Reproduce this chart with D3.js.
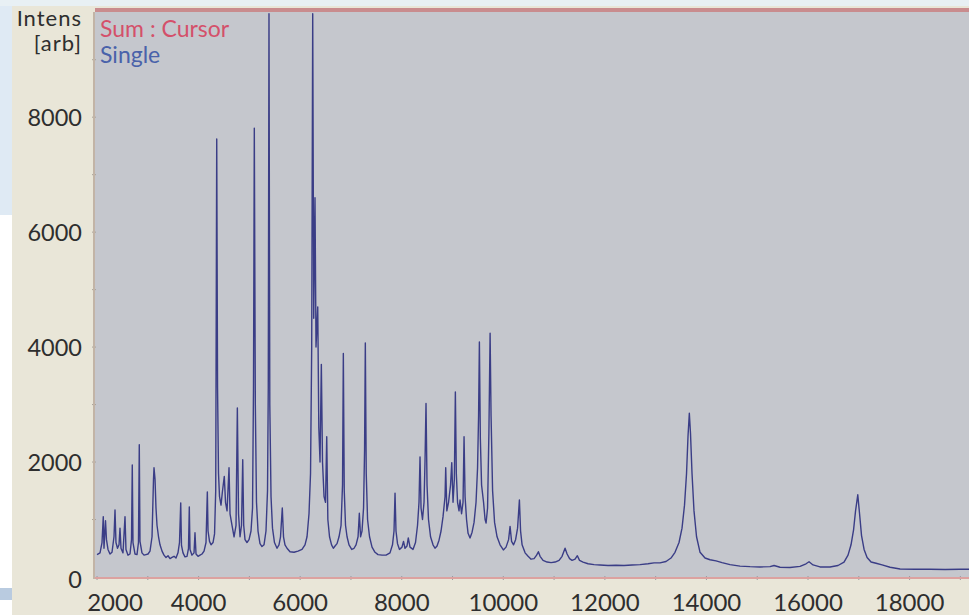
<!DOCTYPE html>
<html>
<head>
<meta charset="utf-8">
<title>Spectrum</title>
<style>
  body { margin: 0; background: #ffffff; }
  text { font-family: Lato, "Open Sans", sans-serif; }
</style>
</head>
<body>
<svg width="969" height="615"></svg>
<script src="https://d3js.org/d3.v7.min.js"></script>
<script>

// m/z positions
var mz = [
  2000, 2059, 2098, 2123, 2137, 2167, 2186, 2216, 2255, 2295, 2334, 2354, 2373, 2403, 2433, 2452, 2472, 2511, 2551, 2570,
  2610, 2649, 2679, 2694, 2708, 2748, 2787, 2816, 2832, 2846, 2885, 2925, 2964, 3004, 3043, 3083, 3112, 3122, 3142, 3161,
  3181, 3211, 3240, 3280, 3319, 3358, 3398, 3437, 3476, 3516, 3555, 3594, 3624, 3648, 3663, 3693, 3732, 3772, 3801, 3817,
  3831, 3870, 3910, 3929, 3949, 3989, 4028, 4067, 4107, 4146, 4172, 4186, 4215, 4245, 4284, 4314, 4337, 4357, 4373, 4392,
  4412, 4441, 4471, 4506, 4530, 4560, 4599, 4619, 4658, 4698, 4737, 4763, 4786, 4816, 4845, 4869, 4888, 4914, 4953, 4993,
  5032, 5062, 5081, 5097, 5117, 5140, 5170, 5209, 5248, 5288, 5327, 5357, 5372, 5386, 5402, 5426, 5455, 5494, 5544, 5583,
  5613, 5648, 5672, 5701, 5741, 5800, 5879, 5958, 6036, 6095, 6135, 6174, 6204, 6227, 6247, 6267, 6292, 6312, 6346, 6367,
  6391, 6417, 6440, 6470, 6499, 6523, 6545, 6578, 6618, 6653, 6687, 6726, 6765, 6805, 6834, 6850, 6868, 6893, 6923, 6962,
  7015, 7061, 7100, 7140, 7165, 7189, 7218, 7248, 7268, 7283, 7301, 7327, 7366, 7415, 7474, 7533, 7612, 7691, 7769, 7818,
  7848, 7868, 7887, 7917, 7956, 8005, 8035, 8064, 8104, 8129, 8163, 8222, 8271, 8311, 8340, 8360, 8380, 8409, 8439, 8458,
  8478, 8498, 8527, 8567, 8616, 8655, 8695, 8734, 8774, 8813, 8853, 8866, 8888, 8922, 8961, 8985, 9010, 9036, 9056, 9075,
  9099, 9128, 9148, 9178, 9207, 9227, 9247, 9276, 9306, 9345, 9385, 9424, 9463, 9493, 9513, 9529, 9548, 9572, 9611, 9641,
  9661, 9690, 9716, 9740, 9759, 9789, 9828, 9877, 9936, 10001, 10054, 10104, 10133, 10163, 10202, 10242, 10281, 10317, 10340, 10370,
  10429, 10488, 10547, 10606, 10656, 10691, 10724, 10783, 10862, 10941, 11020, 11098, 11157, 11216, 11256, 11305, 11354, 11413, 11458, 11501,
  11570, 11669, 11787, 11905, 12062, 12220, 12377, 12535, 12692, 12850, 12968, 13086, 13204, 13302, 13381, 13460, 13519, 13568, 13608, 13637,
  13663, 13686, 13716, 13755, 13805, 13874, 13972, 14071, 14189, 14307, 14464, 14661, 14858, 15055, 15252, 15331, 15449, 15646, 15843, 15961,
  16020, 16099, 16236, 16433, 16591, 16709, 16788, 16847, 16897, 16936, 16980, 17015, 17054, 17104, 17163, 17242, 17340, 17458, 17616, 17813,
  18108, 18403, 18698, 18993, 19170
];

// intensities (arb) at those positions
var intens = [
  390, 420, 600, 1050, 500, 980, 650, 480, 400, 430, 700, 1165, 600, 500, 560, 850, 500, 420, 1050, 480,
  380, 400, 650, 1950, 600, 400, 390, 600, 2300, 620, 420, 380, 390, 400, 450, 700, 1700, 1900, 1700, 1200,
  900, 700, 560, 450, 380, 340, 370, 320, 340, 360, 330, 420, 600, 1290, 550, 420, 350, 360, 500, 1220,
  480, 380, 420, 770, 400, 360, 380, 400, 450, 600, 1480, 800, 620, 560, 600, 750, 1500, 7620, 3300, 1800,
  1400, 1250, 1500, 1750, 1300, 1150, 1900, 1100, 900, 700, 900, 2940, 1100, 700, 900, 2040, 900, 650, 600, 650,
  800, 1200, 3300, 7810, 3000, 1300, 800, 580, 530, 560, 800, 1500, 3300, 9800, 3000, 1400, 850, 600, 500, 560,
  700, 1200, 700, 560, 500, 440, 430, 450, 480, 560, 700, 1100, 1800, 4000, 9800, 4500, 6600, 4000, 4700, 2600,
  2000, 3700, 2000, 1400, 1300, 2440, 1000, 700, 560, 500, 540, 580, 700, 900, 1600, 3890, 1500, 900, 700, 560,
  480, 500, 560, 700, 1110, 700, 800, 1200, 2200, 4070, 1800, 1000, 700, 520, 430, 390, 380, 380, 420, 560,
  800, 1460, 800, 580, 480, 520, 620, 500, 540, 680, 520, 480, 600, 900, 1300, 2090, 1200, 1000, 1300, 2000,
  3020, 1600, 1000, 700, 560, 500, 540, 640, 800, 1050, 1400, 1900, 1150, 1300, 1600, 1990, 1300, 1700, 3220, 1800,
  1300, 1150, 1340, 1100, 1300, 2440, 1400, 1000, 760, 680, 780, 950, 1300, 1900, 2800, 4090, 2400, 1600, 1300, 1000,
  940, 1200, 2500, 4240, 2800, 1500, 950, 700, 560, 470, 520, 650, 880, 620, 560, 650, 850, 1340, 800, 560,
  420, 360, 310, 320, 380, 440, 360, 290, 260, 250, 260, 290, 360, 500, 400, 320, 290, 310, 370, 290,
  260, 230, 215, 210, 200, 205, 200, 210, 215, 230, 245, 245, 270, 330, 430, 600, 850, 1250, 1800, 2450,
  2850, 2500, 1800, 1150, 700, 430, 330, 300, 280, 250, 215, 190, 180, 175, 180, 200, 170, 165, 185, 230,
  265, 210, 175, 175, 200, 260, 380, 560, 820, 1150, 1430, 1100, 720, 480, 340, 260, 240, 210, 170, 140,
  135, 135, 130, 135, 135
];

var xTicks = [2000, 4000, 6000, 8000, 10000, 12000, 14000, 16000, 18000];
var yTicks = [0, 2000, 4000, 6000, 8000];
var legendNames = ["Sum : Cursor", "Single"];
var legendColors = ["#d4506a", "#4a62aa"];

var svg = d3.select("svg"),
    width = +svg.attr("width"),
    height = +svg.attr("height");

var plot = {left: 95, top: 12, right: 969, bottom: 577};

var x = d3.scaleLinear().domain([1960, 19170]).range([plot.left, plot.right]);
var y = d3.scaleLinear().domain([0, 9830]).range([plot.bottom, plot.top]);

// window backdrop
svg.append("rect").attr("width", width).attr("height", height).attr("fill", "#ffffff");
svg.append("rect").attr("width", 12).attr("height", 215).attr("fill", "#dfeaf4");
svg.append("rect").attr("width", width).attr("height", 6).attr("fill", "#e8f0f4");
svg.append("rect").attr("x", 0).attr("y", 588).attr("width", 12).attr("height", 12).attr("fill", "#b9cbe0");

// beige panel
svg.append("rect")
    .attr("x", 12).attr("y", 6)
    .attr("width", width - 12).attr("height", height - 6)
    .attr("fill", "#e9e6d8");

// plot area
svg.append("rect")
    .attr("x", plot.left).attr("y", plot.top)
    .attr("width", plot.right - plot.left).attr("height", plot.bottom - plot.top)
    .attr("fill", "#c5c7cd");

// top border
svg.append("line")
    .attr("x1", plot.left).attr("x2", plot.right)
    .attr("y1", plot.top - 2).attr("y2", plot.top - 2)
    .attr("stroke", "#c98c8e").attr("stroke-width", 4);

// minor ticks every 1000
var xMinor = d3.range(2000, 19001, 1000);
svg.append("g").selectAll("line")
  .data(xMinor)
  .enter().append("line")
    .attr("x1", function(d) { return x(d); })
    .attr("x2", function(d) { return x(d); })
    .attr("y1", plot.bottom - 1).attr("y2", plot.bottom + 3)
    .attr("stroke", "#9a9aa0").attr("stroke-width", 1);

var yMinor = d3.range(1000, 9001, 1000);
svg.append("g").selectAll("line")
  .data(yMinor)
  .enter().append("line")
    .attr("x1", plot.left - 3).attr("x2", plot.left + 1)
    .attr("y1", function(d) { return y(d); })
    .attr("y2", function(d) { return y(d); })
    .attr("stroke", "#a8a29a").attr("stroke-width", 1);

// axis lines
svg.append("line")
    .attr("x1", plot.left - 1).attr("x2", plot.left - 1)
    .attr("y1", plot.top).attr("y2", plot.bottom + 2)
    .attr("stroke", "#c2b4a6").attr("stroke-width", 2);
svg.append("line")
    .attr("x1", plot.left).attr("x2", plot.right)
    .attr("y1", plot.bottom + 1).attr("y2", plot.bottom + 1)
    .attr("stroke", "#dca2a0").attr("stroke-width", 2);

// spectrum
var pts = mz.map(function(d, i) { return [d, intens[i]]; });
var line = d3.line()
    .x(function(d) { return x(d[0]); })
    .y(function(d) { return y(d[1]); });

svg.append("path")
    .datum(pts)
    .attr("d", line)
    .attr("fill", "none")
    .attr("stroke", "#3a3d86")
    .attr("stroke-width", 1.4)
    .attr("stroke-linejoin", "round");

// y labels
svg.append("g").selectAll("text")
  .data(yTicks)
  .enter().append("text")
    .attr("x", 82)
    .attr("y", function(d) { return d === 0 ? y(d) + 3 : y(d); })
    .attr("dy", "0.36em")
    .attr("text-anchor", "end")
    .attr("font-size", 23.5)
    .attr("fill", "#2e2e2e")
    .text(function(d) { return d; });

// x labels
svg.append("g").selectAll("text")
  .data(xTicks)
  .enter().append("text")
    .attr("x", function(d, i) { return i === 0 ? x(d) + 18 : x(d); })
    .attr("y", 611)
    .attr("text-anchor", "middle")
    .attr("font-size", 24)
    .attr("fill", "#2e2e2e")
    .text(function(d) { return d; });

// axis title
svg.append("text")
    .attr("x", 82).attr("y", 26)
    .attr("text-anchor", "end")
    .attr("font-size", 22)
    .attr("letter-spacing", 1)
    .attr("fill", "#2e2e2e")
    .text("Intens");
svg.append("text")
    .attr("x", 82).attr("y", 51)
    .attr("text-anchor", "end")
    .attr("font-size", 22)
    .attr("letter-spacing", 1)
    .attr("fill", "#2e2e2e")
    .text("[arb]");

// legend
svg.append("g").selectAll("text")
  .data(legendNames)
  .enter().append("text")
    .attr("x", 100)
    .attr("y", function(d, i) { return 37 + i * 26; })
    .attr("font-size", 23)
    .attr("fill", function(d, i) { return legendColors[i]; })
    .text(function(d) { return d; });

</script>
</body>
</html>
